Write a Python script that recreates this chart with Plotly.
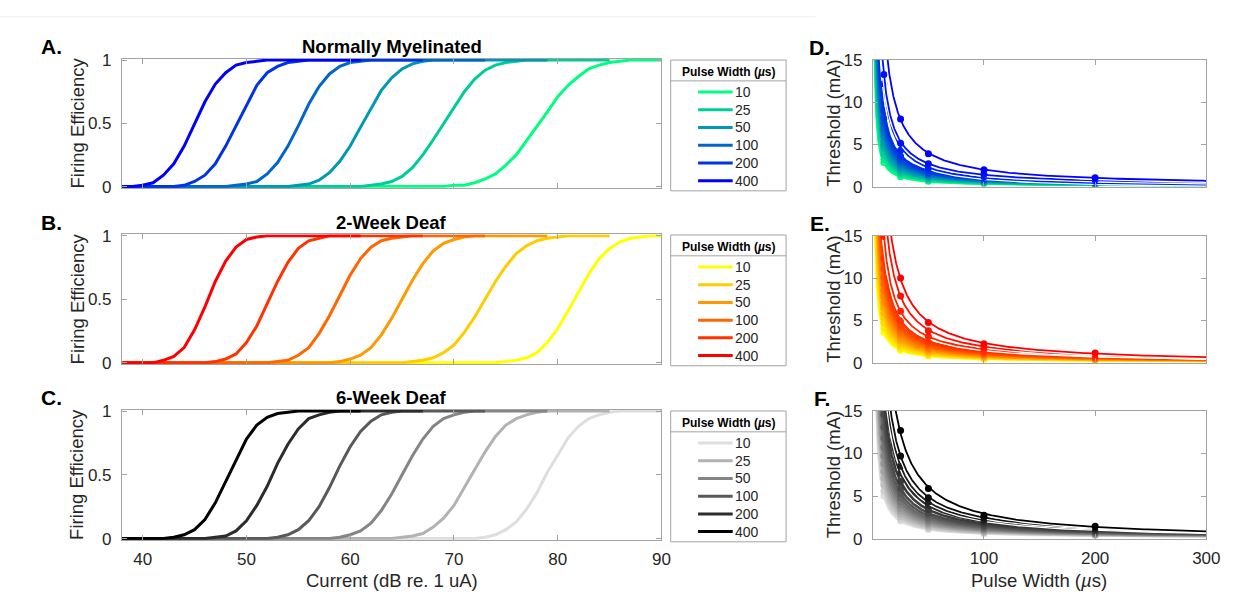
import numpy as np
import plotly.graph_objects as go

W, H = 1248, 607
FONT = "Liberation Sans, Arial, sans-serif"
TXT = "#262626"
AXC = "#a3a3a3"

# ---------------------------------------------------------------- data
pulse_widths = [10, 25, 50, 100, 200, 400]          # legend order
current_start = 38                                    # dB, 1 dB steps

# Firing efficiency vs current, one list per pulse width (10 ... 400 us)
normal_eff = [
    [0, 0, 0, 0, 0, 0, 0, 0, 0, 0, 0, 0, 0, 0, 0, 0, 0, 0, 0, 0, 0, 0, 0, 0, 0, 0, 0, 0, 0, 0, 0, 0,
     0.01, 0.01, 0.03, 0.06, 0.10, 0.17, 0.25, 0.36, 0.48, 0.59, 0.71, 0.80, 0.87, 0.93, 0.96, 0.98, 0.99,
     1, 1, 1, 1],
    [0, 0, 0, 0, 0, 0, 0, 0, 0, 0, 0, 0, 0, 0, 0, 0, 0, 0, 0, 0, 0, 0, 0, 0,
     0.01, 0.02, 0.04, 0.08, 0.15, 0.25, 0.37, 0.50, 0.63, 0.75, 0.85, 0.92, 0.96, 0.98, 0.99,
     1, 1, 1, 1, 1, 1, 1, 1, 1],
    [0, 0, 0, 0, 0, 0, 0, 0, 0, 0, 0, 0, 0, 0, 0, 0, 0,
     0.01, 0.02, 0.05, 0.11, 0.20, 0.32, 0.47, 0.62, 0.76, 0.86, 0.93, 0.97, 0.99,
     1, 1, 1, 1, 1, 1, 1, 1, 1, 1, 1, 1],
    [0, 0, 0, 0, 0, 0, 0, 0, 0, 0, 0,
     0.01, 0.02, 0.04, 0.10, 0.19, 0.32, 0.48, 0.65, 0.79, 0.89, 0.95, 0.98, 0.99,
     1, 1, 1, 1, 1, 1, 1, 1, 1, 1, 1, 1],
    [0, 0, 0, 0, 0, 0,
     0.01, 0.04, 0.09, 0.18, 0.32, 0.48, 0.65, 0.80, 0.90, 0.95, 0.98, 0.99,
     1, 1, 1, 1, 1, 1, 1, 1, 1, 1, 1, 1],
    [0, 0, 0.01, 0.03, 0.09, 0.18, 0.32, 0.50, 0.67, 0.81, 0.90, 0.96, 0.98, 0.99,
     1, 1, 1, 1, 1, 1, 1, 1, 1, 1],
]

deaf2_eff = [
    [0, 0, 0, 0, 0, 0, 0, 0, 0, 0, 0, 0, 0, 0, 0, 0, 0, 0, 0, 0, 0, 0, 0, 0, 0, 0, 0, 0, 0, 0, 0, 0,
     0, 0, 0, 0, 0,
     0.01, 0.02, 0.04, 0.08, 0.16, 0.27, 0.41, 0.56, 0.70, 0.82, 0.90, 0.95, 0.98, 0.99, 1, 1],
    [0, 0, 0, 0, 0, 0, 0, 0, 0, 0, 0, 0, 0, 0, 0, 0, 0, 0, 0, 0, 0, 0, 0, 0, 0, 0, 0, 0,
     0.01, 0.02, 0.04, 0.08, 0.14, 0.24, 0.36, 0.50, 0.64, 0.76, 0.86, 0.92, 0.96, 0.98, 0.99,
     1, 1, 1, 1, 1],
    [0, 0, 0, 0, 0, 0, 0, 0, 0, 0, 0, 0, 0, 0, 0, 0, 0, 0, 0, 0, 0,
     0.01, 0.03, 0.06, 0.12, 0.22, 0.35, 0.50, 0.65, 0.78, 0.88, 0.94, 0.97, 0.99,
     1, 1, 1, 1, 1, 1, 1, 1],
    [0, 0, 0, 0, 0, 0, 0, 0, 0, 0, 0, 0, 0, 0, 0,
     0.01, 0.02, 0.06, 0.12, 0.23, 0.37, 0.53, 0.69, 0.82, 0.91, 0.96, 0.98, 0.99,
     1, 1, 1, 1, 1, 1, 1, 1],
    [0, 0, 0, 0, 0, 0, 0, 0, 0,
     0.01, 0.03, 0.07, 0.16, 0.29, 0.46, 0.64, 0.79, 0.90, 0.96, 0.98,
     1, 1, 1, 1, 1, 1, 1, 1, 1, 1],
    [0, 0, 0, 0,
     0.02, 0.05, 0.12, 0.26, 0.44, 0.64, 0.80, 0.91, 0.97, 0.99,
     1, 1, 1, 1, 1, 1, 1, 1, 1, 1],
]

deaf6_eff = [
    [0, 0, 0, 0, 0, 0, 0, 0, 0, 0, 0, 0, 0, 0, 0, 0, 0, 0, 0, 0, 0, 0, 0, 0, 0, 0, 0, 0, 0, 0, 0, 0,
     0, 0, 0,
     0.01, 0.03, 0.07, 0.13, 0.23, 0.36, 0.52, 0.66, 0.79, 0.88, 0.94, 0.97, 0.99,
     1, 1, 1, 1, 1],
    [0, 0, 0, 0, 0, 0, 0, 0, 0, 0, 0, 0, 0, 0, 0, 0, 0, 0, 0, 0, 0, 0, 0, 0, 0, 0, 0,
     0.01, 0.02, 0.04, 0.09, 0.16, 0.26, 0.40, 0.54, 0.68, 0.80, 0.89, 0.94, 0.97, 0.99,
     1, 1, 1, 1, 1, 1, 1],
    [0, 0, 0, 0, 0, 0, 0, 0, 0, 0, 0, 0, 0, 0, 0, 0, 0, 0, 0, 0, 0,
     0.01, 0.03, 0.06, 0.12, 0.22, 0.35, 0.50, 0.65, 0.78, 0.88, 0.94, 0.97, 0.99,
     1, 1, 1, 1, 1, 1, 1, 1],
    [0, 0, 0, 0, 0, 0, 0, 0, 0, 0, 0, 0, 0, 0, 0,
     0.01, 0.03, 0.07, 0.14, 0.25, 0.40, 0.57, 0.72, 0.84, 0.92, 0.97, 0.99,
     1, 1, 1, 1, 1, 1, 1, 1, 1],
    [0, 0, 0, 0, 0, 0, 0, 0, 0,
     0.01, 0.02, 0.06, 0.14, 0.26, 0.41, 0.59, 0.74, 0.86, 0.94, 0.97, 0.99,
     1, 1, 1, 1, 1, 1, 1, 1, 1],
    [0, 0, 0, 0, 0,
     0.01, 0.03, 0.07, 0.15, 0.28, 0.45, 0.62, 0.78, 0.89, 0.95, 0.98, 0.99,
     1, 1, 1, 1, 1, 1, 1],
]

# Strength-duration thresholds (mA), one row per fibre, at these pulse widths (us)
sd_pulse_widths = [10, 25, 50, 100, 200]

normal_thr = [
    [2.85, 1.15, 0.62, 0.33, 0.19],
    [3.25, 1.35, 0.69, 0.38, 0.22],
    [3.70, 1.49, 0.79, 0.42, 0.24],
    [4.05, 1.68, 0.86, 0.47, 0.27],
    [4.50, 1.82, 0.96, 0.51, 0.29],
    [4.90, 2.01, 1.03, 0.56, 0.32],
    [5.35, 2.22, 1.13, 0.61, 0.35],
    [5.90, 2.40, 1.26, 0.67, 0.38],
    [6.40, 2.62, 1.34, 0.72, 0.41],
    [6.88, 2.83, 1.47, 0.78, 0.44],
    [7.52, 3.05, 1.58, 0.84, 0.47],
    [8.10, 3.32, 1.70, 0.91, 0.51],
    [8.95, 3.63, 1.89, 1.00, 0.56],
    [12.2, 4.30, 2.20, 1.15, 0.64],
    [13.3, 5.15, 2.70, 1.45, 0.80],
    [19.8, 8.00, 3.90, 2.00, 1.05],
]

deaf2_thr = [
    [3.60, 1.50, 0.80, 0.45, 0.28],
    [4.10, 1.70, 0.90, 0.50, 0.30],
    [4.70, 1.94, 1.02, 0.56, 0.33],
    [5.30, 2.18, 1.14, 0.62, 0.36],
    [5.90, 2.42, 1.26, 0.68, 0.39],
    [6.50, 2.66, 1.38, 0.74, 0.42],
    [7.10, 2.90, 1.50, 0.80, 0.45],
    [7.80, 3.18, 1.64, 0.87, 0.49],
    [8.50, 3.46, 1.78, 0.94, 0.52],
    [9.30, 3.78, 1.94, 1.02, 0.56],
    [10.1, 4.10, 2.10, 1.10, 0.60],
    [11.1, 4.50, 2.30, 1.20, 0.65],
    [12.3, 4.98, 2.54, 1.32, 0.71],
    [14.9, 6.10, 3.10, 1.60, 0.85],
    [19.6, 7.90, 3.80, 1.90, 1.00],
    [24.8, 10.0, 4.75, 2.25, 1.15],
]

deaf6_thr = [
    [5.00, 2.06, 1.08, 0.59, 0.35],
    [5.60, 2.30, 1.20, 0.65, 0.38],
    [6.30, 2.58, 1.34, 0.72, 0.41],
    [7.10, 2.90, 1.50, 0.80, 0.45],
    [7.90, 3.22, 1.66, 0.88, 0.49],
    [8.80, 3.58, 1.84, 0.97, 0.54],
    [9.70, 3.94, 2.02, 1.06, 0.58],
    [10.7, 4.34, 2.22, 1.16, 0.63],
    [11.8, 4.78, 2.44, 1.27, 0.69],
    [13.1, 5.30, 2.70, 1.40, 0.75],
    [14.6, 5.90, 3.00, 1.55, 0.83],
    [16.6, 6.70, 3.40, 1.75, 0.93],
    [19.1, 7.70, 3.90, 2.00, 1.05],
    [21.1, 8.50, 4.30, 2.20, 1.15],
    [24.1, 9.70, 4.80, 2.50, 1.30],
    [31.0, 12.7, 5.90, 2.75, 1.45],
]

panel_titles = ["Normally Myelinated", "2-Week Deaf", "6-Week Deaf"]
panel_letters_left = ["A.", "B.", "C."]
panel_letters_right = ["D.", "E.", "F."]
current_ticks = [40, 50, 60, 70, 80, 90]
eff_ticks = [0, 0.5, 1]
pw_ticks = [100, 200, 300]
thr_ticks = [0, 5, 10, 15]

# colour ramps: (low end, high end)
ramps = [((0, 255, 128), (0, 0, 255)),
         ((255, 255, 0), (255, 0, 0)),
         ((222, 222, 222), (0, 0, 0))]


def ramp(c0, c1, t):
    r, g, b = (round(a + (bb - a) * t) for a, bb in zip(c0, c1))
    return f"rgb({r},{g},{b})"


def px(x):
    return x / W


def py(y):
    return 1 - y / H


def label(text, x, y, size, color=TXT, xanchor="center", angle=0):
    return dict(text=text, x=px(x), y=py(y), xref="paper", yref="paper",
                xanchor=xanchor, yanchor="middle", textangle=angle, showarrow=False,
                font=dict(size=size, family=FONT, color=color))


# ---------------------------------------------------------------- layout geometry (pixels)
left_x = (123.3, 669.0)
right_x = (882.7, 1220.0)
row_top = [52.7, 234.0, 415.0]
row_bot = [183.3, 365.3, 546.7]
EPAD = 0.01

fig = go.Figure()
layout = dict(
    width=W, height=H, autosize=False, margin=dict(l=0, r=0, t=0, b=0),
    paper_bgcolor="white", plot_bgcolor="white", showlegend=False,
    font=dict(family=FONT, color=TXT),
)


def axis_common():
    return dict(showline=True, linecolor=AXC, linewidth=1, mirror="ticks",
                ticks="inside", ticklen=5, tickcolor=AXC, tickwidth=1,
                showgrid=False, zeroline=False,
                tickfont=dict(family=FONT, size=17, color=TXT))


eff_groups = [normal_eff, deaf2_eff, deaf6_eff]
thr_groups = [normal_thr, deaf2_thr, deaf6_thr]
shapes = []
annotations = []

for r in range(3):
    # ---------------- left column: firing efficiency
    ia = r + 1
    xa, ya = f"x{ia}", f"y{ia}"
    span = row_bot[r] - row_top[r]
    pad = EPAD * span
    layout[f"xaxis{ia}"] = dict(axis_common(), domain=[px(left_x[0]), px(left_x[1])],
                                range=[38, 90], tickvals=current_ticks,
                                showticklabels=(r == 2), anchor=ya,
                                ticklabelstandoff=4)
    layout[f"yaxis{ia}"] = dict(axis_common(),
                                domain=[py(row_bot[r] + pad), py(row_top[r] - pad)],
                                range=[-EPAD, 1 + EPAD], tickvals=eff_ticks,
                                ticktext=["0", "0.5", "1"], anchor=xa,
                                ticklabelstandoff=6)
    c0, c1 = ramps[r]
    for k, eff in enumerate(eff_groups[r]):
        xs = np.arange(current_start, current_start + len(eff))
        fig.add_trace(go.Scatter(x=xs, y=eff, mode="lines", xaxis=xa, yaxis=ya,
                                 line=dict(color=ramp(c0, c1, k / 5), width=3),
                                 hoverinfo="skip"))

    # ---------------- right column: strength-duration
    ib = r + 4
    xb, yb = f"x{ib}", f"y{ib}"
    layout[f"xaxis{ib}"] = dict(axis_common(), domain=[px(right_x[0]), px(right_x[1])],
                                range=[0, 300], tickvals=pw_ticks,
                                showticklabels=(r == 2), anchor=yb,
                                ticklabelstandoff=4)
    layout[f"yaxis{ib}"] = dict(axis_common(),
                                domain=[py(row_bot[r]), py(row_top[r])],
                                range=[0, 15], tickvals=thr_ticks, anchor=xb,
                                ticklabelstandoff=6)
    pw = np.array(sd_pulse_widths, dtype=float)
    xfit = np.geomspace(1, 300, 500)
    rows = thr_groups[r]
    n = len(rows)
    for i, thr in enumerate(rows):
        col = ramp(c0, c1, i / (n - 1))
        slope, icpt = np.polyfit(1.0 / pw, np.array(thr), 1)
        yfit = slope / xfit + icpt
        top_fibre = i >= n - 3
        if top_fibre:
            fig.add_trace(go.Scatter(x=xfit, y=yfit, mode="lines", xaxis=xb, yaxis=yb,
                                     line=dict(color="white", width=4.5), hoverinfo="skip"))
        fig.add_trace(go.Scatter(x=xfit, y=yfit, mode="lines", xaxis=xb, yaxis=yb,
                                 line=dict(color=col, width=1.8 if top_fibre else 2.6),
                                 hoverinfo="skip"))
        fig.add_trace(go.Scatter(x=pw, y=thr, mode="markers", xaxis=xb, yaxis=yb,
                                 marker=dict(color=col, size=7, line=dict(width=0)),
                                 hoverinfo="skip"))

    # ---------------- texts
    mid_y = (row_top[r] + row_bot[r]) / 2
    annotations.append(label("Firing Efficiency", 78, mid_y, 18.5, angle=-90))
    annotations.append(label("Threshold (mA)", 843, mid_y, 18.5, angle=-90))
    annotations.append(label(f"<b>{panel_titles[r]}</b>", 396, row_top[r] - 14, 18.5,
                             color="black"))
    annotations.append(label(f"<b>{panel_letters_left[r]}</b>", 52, row_top[r] - 14, 21,
                             color="black"))
    annotations.append(label(f"<b>{panel_letters_right[r]}</b>", 841, row_top[r] - 13, 21,
                             color="black", xanchor="right"))

    # ---------------- legend box
    lx0, lx1 = 678.3, 795.0
    ltop = [52.7, 233.3, 415.0][r]
    shapes.append(dict(type="rect", xref="paper", yref="paper",
                       x0=px(lx0), x1=px(lx1), y0=py(ltop + 135), y1=py(ltop),
                       line=dict(color=AXC, width=1), fillcolor="white", layer="below"))
    shapes.append(dict(type="line", xref="paper", yref="paper",
                       x0=px(lx0), x1=px(lx1), y0=py(ltop + 21.5), y1=py(ltop + 21.5),
                       line=dict(color=AXC, width=1)))
    annotations.append(label("<b>Pulse Width (<i>µ</i>s)</b>", (lx0 + lx1) / 2,
                             ltop + 12, 12, color="black"))
    for k, w in enumerate(pulse_widths):
        yy = ltop + 33 + 18.3 * k
        shapes.append(dict(type="line", xref="paper", yref="paper",
                           x0=px(706), x1=px(741), y0=py(yy), y1=py(yy),
                           line=dict(color=ramp(c0, c1, k / 5), width=3)))
        annotations.append(label(str(w), 741, yy, 14, xanchor="left"))

annotations.append(label("Current (dB re. 1 uA)", 396, 590, 18.5))
annotations.append(label("Pulse Width (<i>µ</i>s)", 1051, 590, 18.5))

# faint rule along the top of the page
shapes.append(dict(type="line", xref="paper", yref="paper", x0=0, x1=px(825),
                   y0=py(8), y1=py(8), line=dict(color="#eeeeee", width=1)))

layout["shapes"] = shapes
layout["annotations"] = annotations
fig.update_layout(**layout)

# pin the figure to the page corner with no body margin
page_fix = (
    "document.documentElement.style.margin='0';"
    "document.body.style.margin='0';document.body.style.padding='0';"
    "document.body.style.overflow='hidden';"
    "var gd=document.getElementById('{plot_id}');"
    "gd.style.position='fixed';gd.style.left='0px';gd.style.top='0px';"
)
fig.write_html("out.html", config={"responsive": False}, post_script=page_fix)
